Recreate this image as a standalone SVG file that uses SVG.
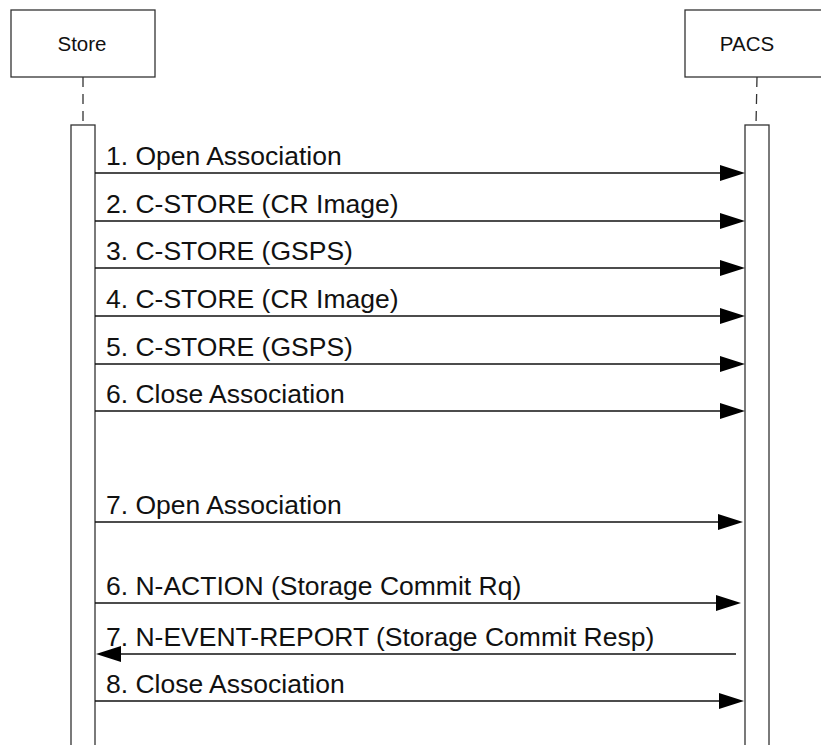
<svg xmlns="http://www.w3.org/2000/svg" width="821" height="745" viewBox="0 0 821 745">
<style>
.box{fill:#fff;stroke:#333;stroke-width:1.3}
.life{stroke:#333;stroke-width:1.3;stroke-dasharray:10,7;fill:none}
.msg{stroke:#111;stroke-width:1.6;fill:none}
.head{fill:#000}
.nl{font-family:"Liberation Sans",Arial,sans-serif;font-size:20.5px;fill:#111;text-anchor:middle}
.ml{font-family:"Liberation Sans",Arial,sans-serif;font-size:26.5px;fill:#111}
</style>
<rect width="821" height="745" fill="#fff"/>
<g id="store">
<rect class="box" x="11" y="10" width="144" height="67"/>
<text class="nl" x="82" y="51">Store</text>
<line class="life" x1="83" y1="77" x2="83" y2="125"/>
<rect class="box" x="71" y="125" width="24" height="640"/>
</g>
<g id="pacs">
<rect class="box" x="685" y="10" width="144" height="67"/>
<text class="nl" x="747" y="51">PACS</text>
<line class="life" x1="757" y1="77" x2="756" y2="125"/>
<rect class="box" x="745" y="125" width="24" height="640"/>
</g>
<g id="connectors">
<line class="msg" x1="95" y1="173" x2="722" y2="173"/><polygon class="head" points="745,173 720,165 720,181"/>
<text class="ml" x="106" y="165">1. Open Association</text>
<line class="msg" x1="95" y1="221" x2="722" y2="221"/><polygon class="head" points="745,221 720,213 720,229"/>
<text class="ml" x="106" y="213">2. C-STORE (CR Image)</text>
<line class="msg" x1="95" y1="268" x2="722" y2="268"/><polygon class="head" points="745,268 720,260 720,276"/>
<text class="ml" x="106" y="260">3. C-STORE (GSPS)</text>
<line class="msg" x1="95" y1="316" x2="722" y2="316"/><polygon class="head" points="745,316 720,308 720,324"/>
<text class="ml" x="106" y="308">4. C-STORE (CR Image)</text>
<line class="msg" x1="95" y1="364" x2="722" y2="364"/><polygon class="head" points="745,364 720,356 720,372"/>
<text class="ml" x="106" y="356">5. C-STORE (GSPS)</text>
<line class="msg" x1="95" y1="411" x2="722" y2="411"/><polygon class="head" points="745,411 720,403 720,419"/>
<text class="ml" x="106" y="403">6. Close Association</text>
<line class="msg" x1="95" y1="522" x2="720" y2="522"/><polygon class="head" points="743,522 718,514 718,530"/>
<text class="ml" x="106" y="514">7. Open Association</text>
<line class="msg" x1="95" y1="603" x2="718" y2="603"/><polygon class="head" points="741,603 716,595 716,611"/>
<text class="ml" x="106" y="595">6. N-ACTION (Storage Commit Rq)</text>
<line class="msg" x1="736" y1="654" x2="118" y2="654"/><polygon class="head" points="96,654 121,646 121,662"/>
<text class="ml" x="106" y="646">7. N-EVENT-REPORT (Storage Commit Resp)</text>
<line class="msg" x1="95" y1="701" x2="721" y2="701"/><polygon class="head" points="744,701 719,693 719,709"/>
<text class="ml" x="106" y="693">8. Close Association</text>
</g>
</svg>
